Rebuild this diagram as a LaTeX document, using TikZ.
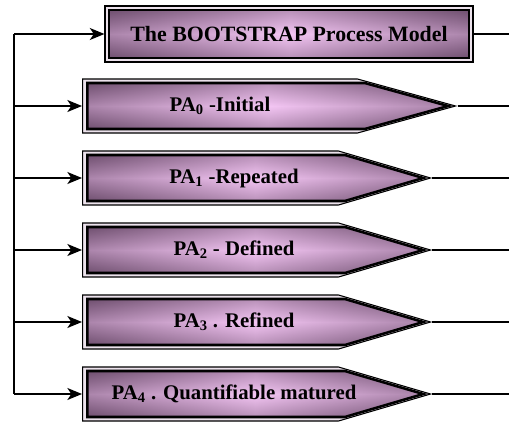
\documentclass[tikz,border=0pt]{standalone}
\usepackage{fontspec}
\setmainfont{Liberation Serif}
\usetikzlibrary{arrows.meta,shapes.symbols}

\definecolor{plumdark}{RGB}{112,80,112}
\definecolor{plumlight}{RGB}{244,198,244}
\definecolor{rimlight}{RGB}{236,226,236}

\begin{document}
\begin{tikzpicture}[
  x=0.75pt, y=-0.75pt,
  rim/.style={draw, line width=0.8pt, fill=rimlight, inner sep=0pt},
  core/.style={draw, line width=1.9pt, inner sep=0pt,
    preaction={shade, left color=plumdark, right color=plumdark, middle color=plumlight},
    preaction={shade, top color=plumdark, bottom color=plumdark, middle color=plumlight, fill opacity=0.45}},
  sig/.style={signal, signal to=east, anchor=west},
  lbl/.style={font=\fontsize{15.6}{18}\selectfont\bfseries, inner sep=0pt},
  arr/.style={-{Stealth[length=11pt, width=9pt, inset=3pt]}, line width=1.1pt},
  wire/.style={line width=1.1pt}
]
\useasboundingbox (0,0) rectangle (509,421);

% title box
\node[rim, rectangle, minimum width=276pt, minimum height=42pt] (title) at (289,34) {};
\node[core, rectangle, minimum width=270pt, minimum height=36pt] (titlein) at (289,34) {};
\node[lbl, font=\fontsize{16.4}{18}\selectfont\bfseries] (titletxt) at (289,34) {The BOOTSTRAP Process Model};

% process area arrows
\node[rim, sig, signal pointer angle=30.8, minimum width=279.75pt, minimum height=40.5pt] (pa0) at (82,106) {};
\node[core, sig, signal pointer angle=30.8, minimum width=270.75pt, minimum height=34.5pt] (pa0in) at (86,106) {};
\node[lbl] (pa0txt) at (220,106) {PA\textsubscript{0} -Initial};

\node[rim, sig, signal pointer angle=32.7, minimum width=261pt, minimum height=40.5pt] (pa1) at (82,178) {};
\node[core, sig, signal pointer angle=32.7, minimum width=252pt, minimum height=34.5pt] (pa1in) at (86,178) {};
\node[lbl] (pa1txt) at (234,178) {PA\textsubscript{1} -Repeated};

\node[rim, sig, signal pointer angle=32.7, minimum width=261pt, minimum height=40.5pt] (pa2) at (82,250) {};
\node[core, sig, signal pointer angle=32.7, minimum width=252pt, minimum height=34.5pt] (pa2in) at (86,250) {};
\node[lbl] (pa2txt) at (234,250) {PA\textsubscript{2} - Defined};

\node[rim, sig, signal pointer angle=32.7, minimum width=261pt, minimum height=40.5pt] (pa3) at (82,322) {};
\node[core, sig, signal pointer angle=32.7, minimum width=252pt, minimum height=34.5pt] (pa3in) at (86,322) {};
\node[lbl] (pa3txt) at (234,322) {PA\textsubscript{3} . Refined};

\node[rim, sig, signal pointer angle=32.7, minimum width=261pt, minimum height=40.5pt] (pa4) at (82,394) {};
\node[core, sig, signal pointer angle=32.7, minimum width=252pt, minimum height=34.5pt] (pa4in) at (86,394) {};
\node[lbl] (pa4txt) at (234,394) {PA\textsubscript{4} . Quantifiable matured};

% feed bus on the left, outputs on the right
\coordinate (b0) at (14,34);
\coordinate (b1) at (14,106);
\coordinate (b2) at (14,178);
\coordinate (b3) at (14,250);
\coordinate (b4) at (14,322);
\coordinate (b5) at (14,394);
\coordinate (e0) at (509,34);
\coordinate (e1) at (509,106);
\coordinate (e2) at (509,178);
\coordinate (e3) at (509,250);
\coordinate (e4) at (509,322);
\coordinate (e5) at (509,394);

\draw[wire] (b0) -- (b5);
\draw[arr] (b0) -- (title.west);
\draw[arr] (b1) -- (pa0.west);
\draw[arr] (b2) -- (pa1.west);
\draw[arr] (b3) -- (pa2.west);
\draw[arr] (b4) -- (pa3.west);
\draw[arr] (b5) -- (pa4.west);
\draw[wire] (title.east) -- (e0);
\draw[wire] (pa0.east) -- (e1);
\draw[wire] (pa1.east) -- (e2);
\draw[wire] (pa2.east) -- (e3);
\draw[wire] (pa3.east) -- (e4);
\draw[wire] (pa4.east) -- (e5);
\end{tikzpicture}
\end{document}
